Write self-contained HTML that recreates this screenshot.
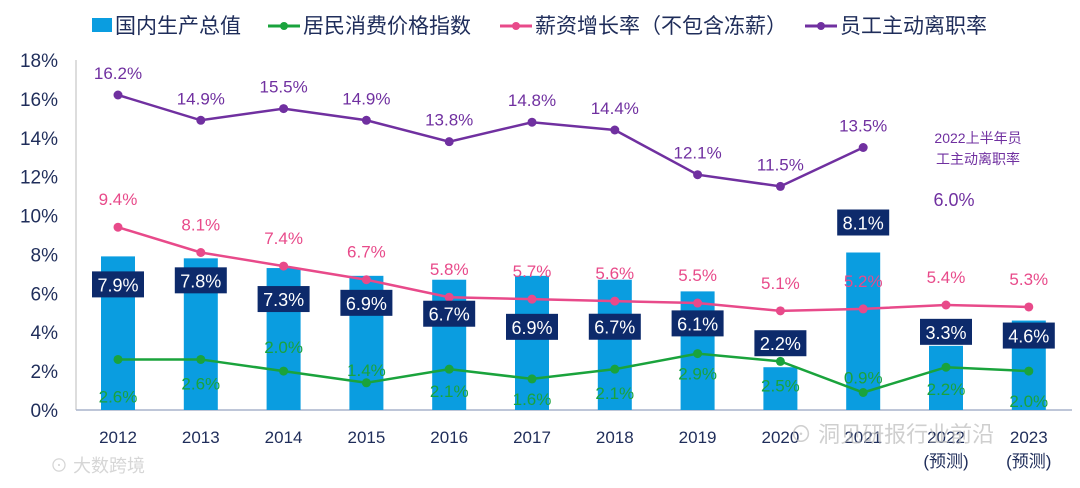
<!DOCTYPE html>
<html><head><meta charset="utf-8"><style>
body{margin:0;background:#fff;}
svg text{font-family:"Liberation Sans","Noto Sans CJK SC",sans-serif;}
</style></head><body>
<svg id="chart" width="1080" height="483" viewBox="0 0 1080 483" xmlns="http://www.w3.org/2000/svg">
<g id="legend">
 <g><rect x="92" y="18" width="20" height="14" fill="#0a9de0"/><text x="115" y="33" font-size="21" fill="#1f2d5a">国内生产总值</text></g>
 <g><line x1="268" y1="26" x2="300" y2="26" stroke="#1aa33c" stroke-width="3"/><circle cx="284" cy="26" r="4" fill="#1aa33c"/><text x="303" y="33" font-size="21" fill="#1f2d5a">居民消费价格指数</text></g>
 <g><line x1="500" y1="26" x2="532" y2="26" stroke="#e84a8a" stroke-width="3"/><circle cx="516" cy="26" r="4" fill="#e84a8a"/><text x="535" y="33" font-size="21" fill="#1f2d5a">薪资增长率（不包含冻薪）</text></g>
 <g><line x1="805" y1="26" x2="837" y2="26" stroke="#7030a0" stroke-width="3"/><circle cx="821" cy="26" r="4" fill="#7030a0"/><text x="840" y="33" font-size="21" fill="#1f2d5a">员工主动离职率</text></g>
</g>
<g id="axes"></g>
<g id="bars"></g>
<g id="lines"></g>
<g id="labels"></g>
<text x="978" y="143" font-size="14" fill="#7030a0" text-anchor="middle">2022上半年员</text>
<text x="978" y="164" font-size="14" fill="#7030a0" text-anchor="middle">工主动离职率</text>
<text x="954" y="206" font-size="18" fill="#7030a0" text-anchor="middle">6.0%</text>
<text x="50" y="472" font-size="18" fill="#ccc" opacity="0.8">⊙ 大数跨境</text>
<text x="790" y="442" font-size="22" fill="#bbb" opacity="0.7">⊙ 洞见研报行业前沿</text>
</svg>
<script>
const categories=["2012","2013","2014","2015","2016","2017","2018","2019","2020","2021","2022","2023"];
const gdp=[7.9,7.8,7.3,6.9,6.7,6.9,6.7,6.1,2.2,8.1,3.3,4.6];
const cpi=[2.6,2.6,2.0,1.4,2.1,1.6,2.1,2.9,2.5,0.9,2.2,2.0];
const salary=[9.4,8.1,7.4,6.7,5.8,5.7,5.6,5.5,5.1,5.2,5.4,5.3];
const turnover=[16.2,14.9,15.5,14.9,13.8,14.8,14.4,12.1,11.5,13.5];
const yTicks=[0,2,4,6,8,10,12,14,16,18];
const gdpLabelDy=[28,22,31,27,34,51,47,32,-24,-30,-14,15];
const cpiLabelDy=[37,24,-24,-13,22,20,24,20,24,-15,22,30];
const NS="http://www.w3.org/2000/svg";
const x0=118,step=82.8;
function xs(i){return x0+i*step;}
function ys(v){return 410-v*350/18;}
function mk(tag,attrs,parent,txt){const e=document.createElementNS(NS,tag);for(const k in attrs)e.setAttribute(k,attrs[k]);if(txt!==undefined)e.textContent=txt;parent.appendChild(e);return e;}
const axes=document.getElementById('axes'),bars=document.getElementById('bars'),lines=document.getElementById('lines'),labels=document.getElementById('labels');
let e=mk('line',{x1:76,y1:60,x2:76,y2:410,stroke:'#bbb','stroke-width':1},axes);


e=mk('line',{x1:76,y1:410,x2:1072,y2:410,stroke:'#a9b4cc','stroke-width':1.5},axes);


yTicks.forEach(t=>{const el=mk('text',{x:58,y:ys(t)+7,'font-size':19,fill:'#1f2d5a','text-anchor':'end'},axes,t+'%');

});
categories.forEach((c,i)=>{const el=mk('text',{x:xs(i),y:443,'font-size':17,fill:'#1f2d5a','text-anchor':'middle'},axes,c);


if(i>=10){const p=mk('text',{x:xs(i),y:467,'font-size':17,fill:'#1f2d5a','text-anchor':'middle'},axes,'(预测)');

}});
gdp.forEach((v,i)=>{const r=mk('rect',{x:xs(i)-17,y:ys(v),width:34,height:410-ys(v),fill:'#0a9de0'},bars);


const cy=ys(v)+gdpLabelDy[i];
const b=mk('rect',{x:xs(i)-26,y:cy-13,width:52,height:26,fill:'#0d2a6b'},labels);


const t=mk('text',{x:xs(i),y:cy+7,'font-size':18,fill:'#fff','text-anchor':'middle'},labels,v.toFixed(1)+'%');

});
function series(vals,color,name,dyFn){
 const pts=vals.map((v,i)=>xs(i)+','+ys(v)).join(' ');
 const pl=mk('polyline',{points:pts,fill:'none',stroke:color,'stroke-width':2.5},lines);
 
 
 vals.forEach((v,i)=>{const c=mk('circle',{cx:xs(i),cy:ys(v),r:4.5,fill:color},lines);
 
 
 const t=mk('text',{x:xs(i),y:ys(v)+dyFn(i)+6,'font-size':17,fill:color,'text-anchor':'middle'},labels,v.toFixed(1)+'%');
 
 });
}
series(turnover,'#7030a0','turnover',()=>-22);
series(salary,'#e84a8a','salary',()=>-28);
series(cpi,'#1aa33c','cpi',i=>cpiLabelDy[i]);
</script>
</body></html>
